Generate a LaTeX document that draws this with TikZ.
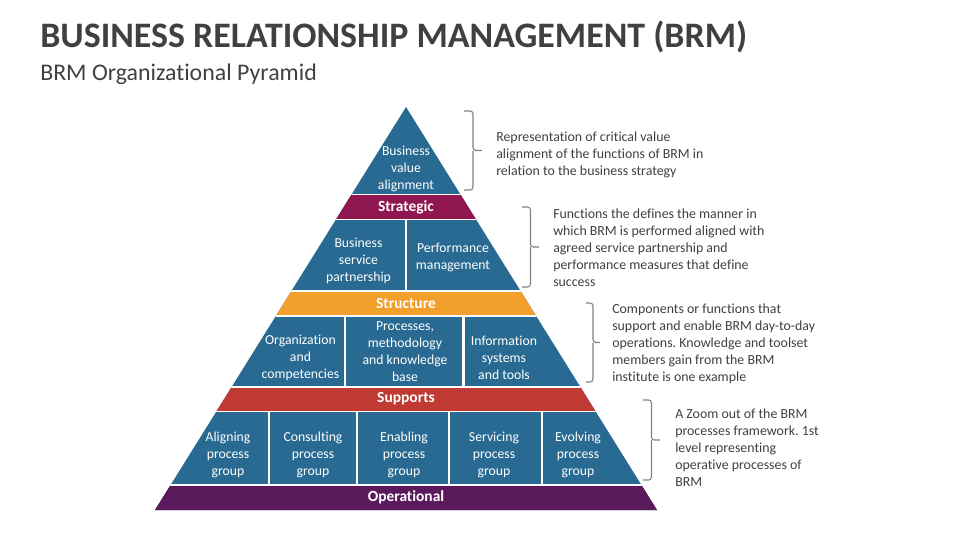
\documentclass[tikz,border=0pt]{standalone}
\usepackage{fontspec}
\setmainfont[Ligatures=NoCommon]{Carlito}
\frenchspacing

\definecolor{azul}{RGB}{40,106,145}
\definecolor{vinho}{RGB}{143,22,80}
\definecolor{laranja}{RGB}{242,159,43}
\definecolor{vermelho}{RGB}{190,58,50}
\definecolor{roxo}{RGB}{91,26,92}
\definecolor{cinza}{RGB}{64,64,64}
\definecolor{cinzaclaro}{RGB}{128,128,128}

\begin{document}
\begin{tikzpicture}[x=0.75pt,y=-0.75pt]

    % Area total da figura (em pixels da referencia)
    \useasboundingbox (0,0) rectangle (960,540);

    % Estilos dos textos e das chaves
    \tikzstyle{celula} = [
      text=white, align=center, inner sep=0pt,
      font=\fontsize{10.3}{12.75}\selectfont
    ];
    \tikzstyle{faixa} = [
      text=white, inner sep=0pt,
      font=\fontsize{11.6}{13}\selectfont\bfseries
    ];
    \tikzstyle{nota} = [
      text=cinza, align=left, anchor=west, inner sep=0pt,
      font=\fontsize{10.4}{12.75}\selectfont
    ];
    \tikzstyle{chave} = [
      draw=cinzaclaro, line width=0.8pt, rounded corners=2.2pt
    ];
    \tikzstyle{divisor} = [draw=white, line width=2pt];
    \tikzstyle{corte} = [draw=white, line width=0.8pt];

    % Titulo e subtitulo
    \node[anchor=base west, inner sep=0pt, text=cinza,
      font=\fontsize{26.9}{30}\selectfont\bfseries] (titulo) at (40,47)
      {BUSINESS RELATIONSHIP MANAGEMENT (BRM)};
    \node[anchor=base west, inner sep=0pt, text=cinza,
      font=\fontsize{17.9}{20}\selectfont] (subtitulo) at (40,80)
      {BRM Organizational Pyramid};

    % Piramide: recorte triangular
    \begin{scope}
      \clip (406,107) -- (657,510) -- (155,510) -- cycle;
      \fill[azul] (150,100) rectangle (670,515);

      % Faixas coloridas
      \fill[vinho] (150,194.5) rectangle (670,219.5);
      \fill[laranja] (150,291) rectangle (670,316);
      \fill[vermelho] (150,387) rectangle (670,411.5);
      \fill[roxo] (150,485) rectangle (670,515);

      % Linhas brancas entre os niveis
      \foreach \y in {194.5,219.5,291,316,387,411.5,485}
        \draw[corte] (150,\y) -- (670,\y);

      % Divisores verticais
      \draw[divisor] (406,219.5) -- (406,291);
      \foreach \x in {345,463.5}
        \draw[divisor] (\x,316) -- (\x,387);
      \foreach \x in {269,357,449,542}
        \draw[divisor] (\x,411.5) -- (\x,485);
    \end{scope}

    % Textos do topo e do segundo nivel
    \node[celula] (valor) at (406,169) {Business\\value\\alignment};
    \node[faixa] (estrategico) at (406,207) {Strategic};
    \node[celula] (parceria) at (358.5,261) {Business\\service\\partnership};
    \node[celula] (desempenho) at (453,257) {Performance\\management};
    \node[faixa] (estrutura) at (406,303.5) {Structure};

    % Terceiro nivel
    \node[celula] (organizacao) at (300.5,357.5) {Organization\\and\\competencies};
    \node[celula] (processos) at (405,352) {Processes,\\methodology\\and knowledge\\base};
    \node[celula] (informacao) at (504,358) {Information\\systems\\and tools};
    \node[faixa] (suporte) at (406,399) {Supports};

    % Quarto nivel: grupos de processos
    \foreach \x/\nome [count=\i] in {228/Aligning,313/Consulting,404/Enabling,494/Servicing,578/Evolving}
    {
      \node[celula] (grupo\i) at (\x,455) {\nome\\process\\group};
    }
    \node[faixa] (operacional) at (406,497.5) {Operational};

    % Chaves laterais: x da ponta, y de cima, y de baixo, largura
    \foreach \xa/\ya/\yb/\w [count=\i] in {464/111/190/9, 522/207/287/8.5, 586/303/382/7, 643/400/480/8.5}
    {
      \pgfmathsetmacro{\ym}{(\ya+\yb)/2}
      \coordinate (chave\i-topo) at (\xa,\ya);
      \coordinate (chave\i-base) at (\xa,\yb);
      \coordinate (chave\i-meio) at (\xa+\w,\ym);
      \coordinate (chave\i-ponta) at (\xa+2*\w,\ym);
      \draw[chave] (chave\i-topo) -- (\xa+\w,\ya) -- (chave\i-meio) -- (chave\i-ponta);
      \draw[chave] (chave\i-meio) -- (\xa+\w,\yb) -- (chave\i-base);
    }

    % Notas laterais
    \node[nota] (nota1) at (496,155)
      {Representation of critical value\\alignment of the functions of BRM in\\relation to the business strategy};
    \node[nota] (nota2) at (553,248)
      {Functions the defines the manner in\\which BRM is performed aligned with\\agreed service partnership and\\performance measures that define\\success};
    \node[nota] (nota3) at (612,344)
      {Components or functions that\\support and enable BRM day-to-day\\operations. Knowledge and toolset\\members gain from the BRM\\institute is one example};
    \node[nota] (nota4) at (675,447.5)
      {A Zoom out of the BRM\\processes framework. 1st\\level representing\\operative processes of\\BRM};

\end{tikzpicture}
\end{document}
